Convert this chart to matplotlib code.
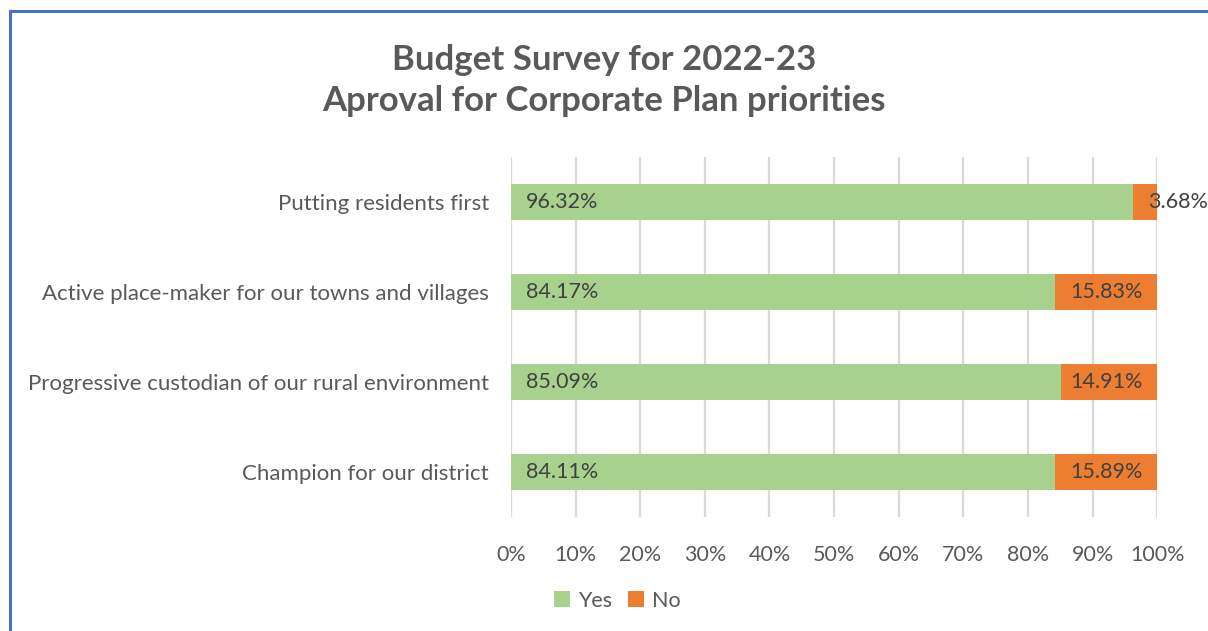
import numpy as np
import matplotlib
matplotlib.use('Agg')
from matplotlib import pyplot
from matplotlib.patches import Rectangle

# chart data
categories = ['Champion for our district',
              'Progressive custodian of our rural environment',
              'Active place-maker for our towns and villages',
              'Putting residents first']
yes_pct = [84.11, 85.09, 84.17, 96.32]
no_pct = [15.89, 14.91, 15.83, 3.68]
x_ticks = [0, 10, 20, 30, 40, 50, 60, 70, 80, 90, 100]

green = '#A9D18E'
orange = '#ED7D31'
text_col = '#595959'
label_col = '#404040'
fs = 15.5

pyplot.rcParams['font.family'] = ['Lato', 'DejaVu Sans']

fig = pyplot.figure(figsize=(12.08, 6.31), dpi=100)
ax = fig.add_axes([0.423, 0.181, 0.535, 0.570])

ind = np.arange(len(categories))
bar_h = 0.4
ax.barh(ind, yes_pct, height=bar_h, color=green, label='Yes', zorder=3)
ax.barh(ind, no_pct, left=yes_pct, height=bar_h, color=orange, label='No', zorder=3)

for i in ind:
    ax.text(2.3, i, '%.2f%%' % yes_pct[i], ha='left', va='center',
            fontsize=fs, color=label_col, zorder=4)
    if no_pct[i] > 8:
        ax.text(97.7, i, '%.2f%%' % no_pct[i], ha='right', va='center',
                fontsize=fs, color=label_col, zorder=4)
    else:
        ax.text(yes_pct[i] + 2.2, i, '%.2f%%' % no_pct[i], ha='left', va='center',
                fontsize=fs, color=label_col, zorder=4)

ax.set_xlim(0, 100)
ax.set_ylim(-0.5, len(categories) - 0.5)
ax.set_xticks(x_ticks)
ax.set_xticklabels(['%d%%' % t for t in x_ticks])
ax.set_yticks(ind)
ax.set_yticklabels(categories)
ax.tick_params(axis='both', length=0, labelsize=fs, labelcolor=text_col)
ax.tick_params(axis='y', labelsize=16, pad=16)
ax.tick_params(axis='x', pad=20)
ax.xaxis.grid(True, color='#D9D9D9', linewidth=1.6, zorder=0)
for s in ax.spines.values():
    s.set_visible(False)

fig.suptitle('Budget Survey for 2022-23\nAproval for Corporate Plan priorities',
             x=0.5, y=0.93, fontsize=25, fontweight='bold', color=text_col,
             linespacing=1.35)

leg = fig.legend(loc='center', bbox_to_anchor=(0.511, 0.048), ncol=2, frameon=False,
                 fontsize=fs, handlelength=0.75, handleheight=0.75,
                 handletextpad=0.4, columnspacing=0.7)
for t in leg.get_texts():
    t.set_color(text_col)

# blue frame on top and left edges
fig.patches.append(Rectangle((0.0082, -0.05), 1.1, 1.032, transform=fig.transFigure,
                             fill=False, edgecolor='#4472C4', linewidth=2.2))

fig.savefig('out.png', dpi=100)
